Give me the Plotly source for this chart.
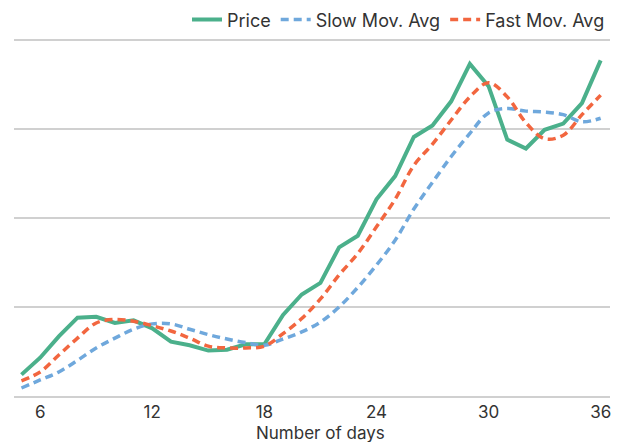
import plotly.graph_objects as go

days = list(range(5, 37))
price = [24, 43, 67, 88, 89, 82, 85, 76, 61, 57, 51, 52, 58, 58, 91, 114,
         127, 167, 180, 221, 247, 291, 304, 331, 373, 348, 288, 278, 299, 306, 329, 377]
slow_avg = [9, 18, 27, 40, 54, 65, 75, 81, 81, 75, 69, 64, 60, 57, 64, 72,
            83, 100, 122, 147, 175, 210, 240, 269, 295, 318, 323, 320, 319, 316, 308, 312]
fast_avg = [17, 27, 46, 65, 82, 86, 84, 79, 73, 65, 56, 54, 54, 56, 70, 87,
            109, 136, 160, 190, 221, 259, 283, 310, 336, 352, 336, 307, 289, 293, 316, 338]

fig = go.Figure()
fig.add_trace(go.Scatter(x=days, y=price, name="Price", mode="lines",
                         line=dict(color="#4BB08B", width=4)))
fig.add_trace(go.Scatter(x=days, y=slow_avg, name="Slow Mov. Avg", mode="lines",
                         line=dict(color="#6FA8DC", width=3.5, dash="8px,5px", shape="spline")))
fig.add_trace(go.Scatter(x=days, y=fast_avg, name="Fast Mov. Avg", mode="lines",
                         line=dict(color="#F2663F", width=3.5, dash="8px,5px", shape="spline")))

H = 442
fig.update_layout(
    width=619, height=H,
    margin=dict(l=14, r=9, t=31.1, b=46, autoexpand=False),
    paper_bgcolor="white", plot_bgcolor="white",
    font=dict(family="Inter, sans-serif", size=17, color="#333333"),
    showlegend=True,
    legend=dict(orientation="h", x=1.0, xanchor="right", y=1.0304, yanchor="middle",
                itemwidth=30, font=dict(size=18, color="#333333"),
                bgcolor="rgba(0,0,0,0)", traceorder="normal"),
    xaxis=dict(range=[4.6, 36.5], tickvals=[6, 12, 18, 24, 30, 36], showgrid=False,
               showline=True, linecolor="#d0d0d0", linewidth=1.5, ticks="",
               zeroline=False, automargin=False,
               tickfont=dict(size=17, color="#333333")),
    yaxis=dict(range=[0, 410], tickvals=[100, 200, 300, 400], showticklabels=False, showgrid=True,
               gridcolor="#d0d0d0", gridwidth=1.5, zeroline=False, showline=False,
               automargin=False),
    annotations=[dict(text="Number of days", xref="paper", yref="paper",
                      x=(320 - 14) / (619 - 14 - 9), y=-(433 - 396) / (396 - 31.1),
                      xanchor="center", yanchor="middle", showarrow=False,
                      font=dict(size=17, color="#333333"))],
)

fig.write_html("out.html", config={"displayModeBar": False},
               post_script="document.body.style.margin='0';")
